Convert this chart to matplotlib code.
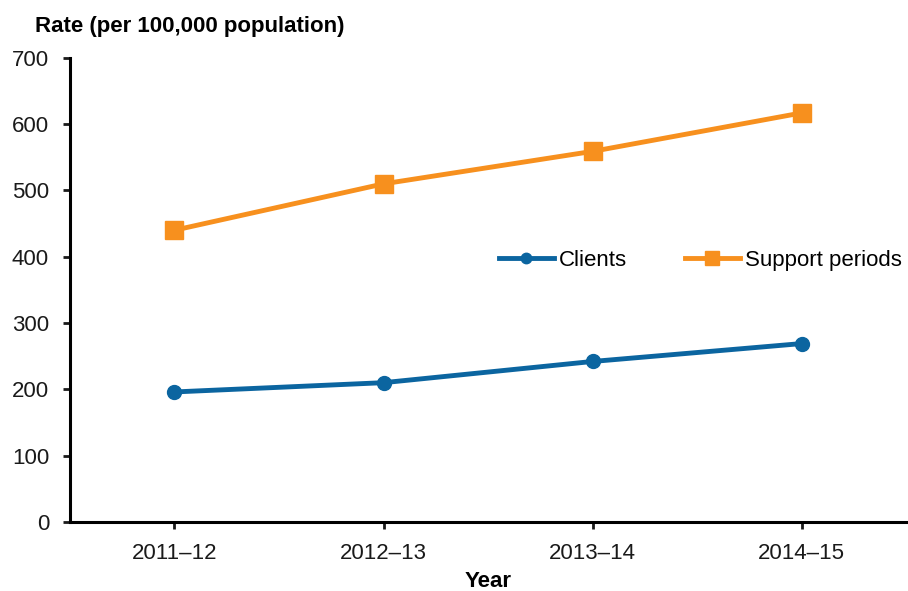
import matplotlib
matplotlib.use('Agg')
import matplotlib.pyplot as plt

plt.rcParams['font.family'] = ['Liberation Sans', 'DejaVu Sans']

years = ['2011\u201312', '2012\u201313', '2013\u201314', '2014\u201315']
clients = [196, 210, 242, 269]
support_periods = [440, 510, 559, 617]

blue = '#0B65A0'
orange = '#F7901E'

fig = plt.figure(figsize=(9.08, 5.91), dpi=100)
ax = fig.add_axes([0.077, 0.117, 0.921, 0.785])

x = range(len(years))
ax.plot(x, clients, color=blue, lw=3.5, marker='o', ms=10, label='Clients')
ax.plot(x, support_periods, color=orange, lw=3.5, marker='s', ms=12.5,
        label='Support periods')

ax.set_xlim(-0.5, 3.5)
ax.set_ylim(0, 700)
ax.set_xticks(list(x))
ax.set_xticklabels(years)
ax.set_yticks(range(0, 701, 100))

for side in ['top', 'right']:
    ax.spines[side].set_visible(False)
for side in ['left', 'bottom']:
    ax.spines[side].set_linewidth(2.2)
ax.tick_params(axis='both', direction='out', length=5, width=2,
               labelsize=16, colors='#1a1a1a')
ax.tick_params(axis='x', pad=10)
ax.tick_params(axis='y', pad=10)

ax.set_xlabel('Year', fontsize=16, fontweight='bold', labelpad=5)
fig.text(0.038, 0.955, 'Rate (per 100,000 population)', fontsize=16,
         fontweight='bold', ha='left', va='center')

ax.legend(loc='center', bbox_to_anchor=(0.771, 0.56), bbox_transform=fig.transFigure,
          ncol=2, frameon=False, fontsize=16, handlelength=2.5,
          handletextpad=0.2, columnspacing=2.6, markerscale=0.75)

fig.savefig('out.png', dpi=100)
